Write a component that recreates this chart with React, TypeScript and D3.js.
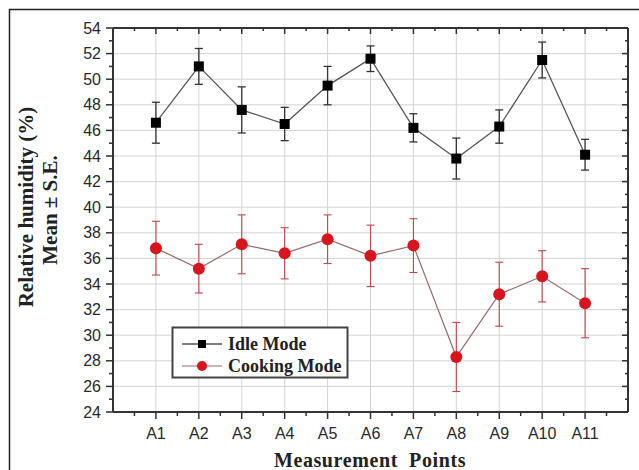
import * as d3 from 'd3'

// Measurement points and series (mean, standard error)
const points = ['A1', 'A2', 'A3', 'A4', 'A5', 'A6', 'A7', 'A8', 'A9', 'A10', 'A11']
const idleMean = [46.6, 51.0, 47.6, 46.5, 49.5, 51.6, 46.2, 43.8, 46.3, 51.5, 44.1]
const idleSE = [1.6, 1.4, 1.8, 1.3, 1.5, 1.0, 1.1, 1.6, 1.3, 1.4, 1.2]
const cookMean = [36.8, 35.2, 37.1, 36.4, 37.5, 36.2, 37.0, 28.3, 33.2, 34.6, 32.5]
const cookSE = [2.1, 1.9, 2.3, 2.0, 1.9, 2.4, 2.1, 2.7, 2.5, 2.0, 2.7]
const yTicks = [24, 26, 28, 30, 32, 34, 36, 38, 40, 42, 44, 46, 48, 50, 52, 54]

const width = 639
const height = 470
const margin = { top: 28, right: 11, bottom: 58, left: 113 }

const tickFont = "'Liberation Sans', Arial, sans-serif"
const titleFont = "'Liberation Serif', 'Times New Roman', serif"

export default function App() {
  const x = d3
    .scaleLinear()
    .domain([0, points.length + 1])
    .range([margin.left, width - margin.right])
  const y = d3
    .scaleLinear()
    .domain([24, 54])
    .range([height - margin.bottom, margin.top])

  const [x0, x1] = x.range()
  const [y0, y1] = y.range()

  const line = d3
    .line<number>()
    .x((_, i) => x(i + 1))
    .y(d => y(d))

  const minorX = d3.range(0.5, points.length + 1.5, 1)
  const minorY = d3.range(25, 54, 2)

  const errorBars = (
    means: number[],
    ses: number[],
    color: string,
    w: number
  ) =>
    means.map((m, i) => {
      const cx = x(i + 1)
      const top = y(m + ses[i])
      const bot = y(m - ses[i])
      return (
        <g key={i} stroke={color} strokeWidth={w}>
          <line x1={cx} x2={cx} y1={top} y2={bot} />
          <line x1={cx - 4} x2={cx + 4} y1={top} y2={top} />
          <line x1={cx - 4} x2={cx + 4} y1={bot} y2={bot} />
        </g>
      )
    })

  return (
    <svg
      width={width}
      height={height}
      style={{ position: 'absolute', left: 0, top: 0, background: '#fff' }}
    >
      {/* outer frame */}
      <rect x={9.5} y={9.5} width={width} height={height} fill="none" stroke="#222" strokeWidth={1.5} />

      {/* grid */}
      <g stroke="#d4d4d4" strokeWidth={1}>
        {yTicks.slice(1, -1).map(t => (
          <line key={'gy' + t} x1={x0} x2={x1} y1={y(t)} y2={y(t)} />
        ))}
        {points.map((_, i) => (
          <line key={'gx' + i} x1={x(i + 1)} x2={x(i + 1)} y1={y0} y2={y1} />
        ))}
      </g>

      {/* axes frame */}
      <g stroke="#333" strokeWidth={2} fill="none">
        <line x1={x0} x2={x1} y1={y0} y2={y0} />
        <line x1={x0} x2={x1} y1={y1} y2={y1} />
        <line x1={x0} x2={x0} y1={y0} y2={y1} />
        <line x1={x1} x2={x1} y1={y0} y2={y1} />
      </g>

      {/* ticks */}
      <g stroke="#333" strokeWidth={1.5}>
        {yTicks.map(t => (
          <g key={'ty' + t}>
            <line x1={x0 - 7} x2={x0} y1={y(t)} y2={y(t)} />
            <line x1={x1 - 6} x2={x1} y1={y(t)} y2={y(t)} />
          </g>
        ))}
        {minorY.map(t => (
          <g key={'my' + t}>
            <line x1={x0 - 4} x2={x0} y1={y(t)} y2={y(t)} />
            <line x1={x1 - 3} x2={x1} y1={y(t)} y2={y(t)} />
          </g>
        ))}
        {points.map((_, i) => (
          <g key={'tx' + i}>
            <line x1={x(i + 1)} x2={x(i + 1)} y1={y0} y2={y0 + 7} />
            <line x1={x(i + 1)} x2={x(i + 1)} y1={y1} y2={y1 + 6} />
          </g>
        ))}
        {minorX.map(t => (
          <g key={'mx' + t}>
            <line x1={x(t)} x2={x(t)} y1={y0} y2={y0 + 4} />
            <line x1={x(t)} x2={x(t)} y1={y1} y2={y1 + 3} />
          </g>
        ))}
      </g>

      {/* tick labels */}
      <g fontFamily={tickFont} fontSize={16} fill="#2a2a2a">
        {yTicks.map(t => (
          <text key={'ly' + t} x={x0 - 12} y={y(t)} dy="0.35em" textAnchor="end">
            {t}
          </text>
        ))}
        {points.map((p, i) => (
          <text key={'lx' + p} x={x(i + 1)} y={y0 + 27} textAnchor="middle">
            {p}
          </text>
        ))}
      </g>

      {/* idle mode */}
      <path d={line(idleMean) ?? ''} fill="none" stroke="#555" strokeWidth={1.3} />
      {errorBars(idleMean, idleSE, '#333', 1.3)}
      {idleMean.map((m, i) => (
        <rect key={'sq' + i} x={x(i + 1) - 5} y={y(m) - 5} width={10} height={10} fill="#000" />
      ))}

      {/* cooking mode */}
      <path d={line(cookMean) ?? ''} fill="none" stroke="#9a6a6a" strokeWidth={1.2} />
      {errorBars(cookMean, cookSE, '#c04848', 1.1)}
      {cookMean.map((m, i) => (
        <circle key={'ci' + i} cx={x(i + 1)} cy={y(m)} r={6} fill="#d8141e" />
      ))}

      {/* legend */}
      <g>
        <rect x={172.5} y={327.5} width={175} height={50} fill="#fff" stroke="#444" strokeWidth={2} />
        <line x1={182} x2={222} y1={344} y2={344} stroke="#555" strokeWidth={1.3} />
        <rect x={198} y={340} width={8} height={8} fill="#000" />
        <line x1={182} x2={222} y1={366} y2={366} stroke="#9a6a6a" strokeWidth={1.2} />
        <circle cx={202} cy={366} r={5} fill="#d8141e" />
        <g fontFamily={titleFont} fontWeight="bold" fontSize={18} fill="#222">
          <text x={228} y={344} dy="0.35em">Idle Mode</text>
          <text x={228} y={366} dy="0.35em">Cooking Mode</text>
        </g>
      </g>

      {/* axis titles */}
      <g fontFamily={titleFont} fontWeight="bold" fontSize={21} fill="#222" textAnchor="middle">
        <text transform={`translate(33,207) rotate(-90)`}>Relative humidity (%)</text>
        <text transform={`translate(57,210) rotate(-90)`}>Mean ± S.E.</text>
        <text x={370} y={467} letterSpacing={0.6} fontSize={20} style={{ whiteSpace: 'pre' }}>
          Measurement  Points
        </text>
      </g>
    </svg>
  )
}
